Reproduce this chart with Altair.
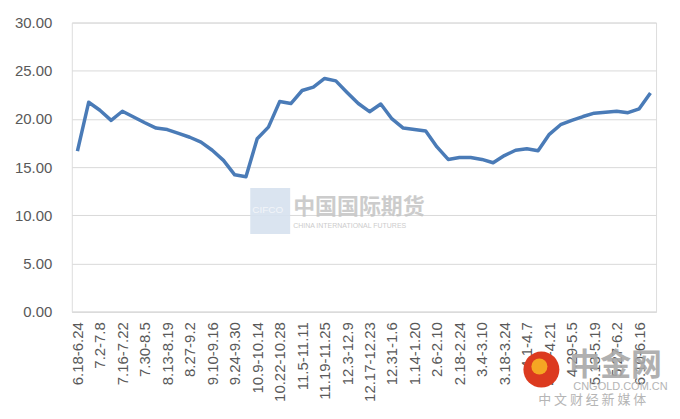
import altair as alt
import pandas as pd

weeks = [
    "6.18-6.24", "6.25-7.1", "7.2-7.8", "7.9-7.15", "7.16-7.22", "7.23-7.29",
    "7.30-8.5", "8.6-8.12", "8.13-8.19", "8.20-8.26", "8.27-9.2", "9.3-9.9",
    "9.10-9.16", "9.17-9.23", "9.24-9.30", "10.1-10.7", "10.9-10.14", "10.15-10.21",
    "10.22-10.28", "10.29-11.4", "11.5-11.11", "11.12-11.18", "11.19-11.25", "11.26-12.2",
    "12.3-12.9", "12.10-12.16", "12.17-12.23", "12.24-12.30", "12.31-1.6", "1.7-1.13",
    "1.14-1.20", "1.21-2.3", "2.6-2.10", "2.11-2.17", "2.18-2.24", "2.25-3.3",
    "3.4-3.10", "3.11-3.17", "3.18-3.24", "3.25-3.31", "4.1-4.7", "4.8-4.14",
    "4.15-4.21", "4.22-4.28", "4.29-5.5", "5.6-5.12", "5.13-5.19", "5.20-5.26",
    "5.27-6.2", "6.3-6.9", "6.10-6.16", "6.17-6.23",
]

values = [
    16.65, 21.73, 20.9, 19.85, 20.8, 20.2,
    19.6, 19.05, 18.9, 18.5, 18.1, 17.6,
    16.75, 15.7, 14.2, 14.0, 17.95, 19.15,
    21.8, 21.6, 22.95, 23.3, 24.2, 23.95,
    22.75, 21.6, 20.75, 21.55, 20.0, 19.05,
    18.9, 18.75, 17.1, 15.8, 16.0, 16.0,
    15.8, 15.45, 16.2, 16.75, 16.9, 16.7,
    18.4, 19.4, 19.85, 20.25, 20.6, 20.7,
    20.8, 20.65, 21.05, 22.7,
]

y_ticks = [0, 5, 10, 15, 20, 25, 30]
shown_weeks = weeks[::2]

df = pd.DataFrame({"week": weeks, "value": values})

TEXT = "#595959"
GRID = "#d9d9d9"
FONT = "Liberation Sans"

line = alt.Chart(df).mark_line(color="#4a7bb7", strokeWidth=3.5, strokeJoin="round").encode(
    x=alt.X(
        "week:N",
        sort=weeks,
        title=None,
        axis=alt.Axis(
            values=shown_weeks,
            labelAngle=-90,
            labelOverlap=False,
            ticks=False,
            labelPadding=10,
            labelColor=TEXT,
            labelFont=FONT,
            labelFontSize=15,
            domainColor=GRID,
            domainWidth=1,
            grid=False,
        ),
    ),
    y=alt.Y(
        "value:Q",
        title=None,
        scale=alt.Scale(domain=[0, 30], nice=False, zero=True),
        axis=alt.Axis(
            values=y_ticks,
            format=".2f",
            ticks=False,
            domain=False,
            labelPadding=20,
            labelColor=TEXT,
            labelFont=FONT,
            labelFontSize=15,
            gridColor=GRID,
            gridWidth=1,
        ),
    ),
)

one = pd.DataFrame({"k": [0]})
CJK = "Noto Sans CJK SC"

# watermark: CIFCO
wm_rect = alt.Chart(one).mark_rect(color="#d6e1ee", opacity=0.9).encode(
    x=alt.value(179), x2=alt.value(219), y=alt.value(166), y2=alt.value(212)
)
wm_cifco = alt.Chart(one).mark_text(text="CIFCO", font=FONT, fontSize=10, color="#f2f5f9", align="left", baseline="middle").encode(
    x=alt.value(181), y=alt.value(188)
)
wm_cn = alt.Chart(one).mark_text(text="中国国际期货", font=CJK, fontSize=22, fontWeight="bold", color="#c4c4c4", opacity=0.85, align="left", baseline="middle").encode(
    x=alt.value(222), y=alt.value(185)
)
wm_en = alt.Chart(one).mark_text(text="CHINA  INTERNATIONAL  FUTURES", font=FONT, fontSize=7, color="#cccccc", align="left", baseline="middle").encode(
    x=alt.value(222), y=alt.value(204)
)

# watermark: cngold
logo_circle = alt.Chart(one).mark_point(shape="circle", filled=True, color="#dc3a1f", size=1300, opacity=1).encode(
    x=alt.value(471), y=alt.value(348)
)
logo_inner = alt.Chart(one).mark_point(shape="circle", filled=True, color="#f5a623", size=260, opacity=1).encode(
    x=alt.value(469), y=alt.value(345)
)
logo_text = alt.Chart(one).mark_text(text="中金网", font=CJK, fontSize=31, fontWeight="bold", color="#a8a8a8", opacity=0.9, align="left", baseline="middle").encode(
    x=alt.value(499), y=alt.value(344)
)
logo_url = alt.Chart(one).mark_text(text="CNGOLD.COM.CN", font=FONT, fontSize=11, color="#b5b5b5", align="left", baseline="middle").encode(
    x=alt.value(503), y=alt.value(366)
)
logo_sub = alt.Chart(one).mark_text(text="中 文 财 经 新 媒 体", font=CJK, fontSize=13, color="#b5b5b5", align="center", baseline="middle").encode(
    x=alt.value(522), y=alt.value(379)
)

chart = alt.layer(
    line, wm_rect, wm_cifco, wm_cn, wm_en, logo_circle, logo_inner, logo_text, logo_url, logo_sub
).properties(
    width=586,
    height=290,
    autosize=alt.AutoSizeParams(type="none"),
    padding={"left": 64, "top": 14, "right": 16, "bottom": 100},
).configure_view(stroke=None).configure(background="white")

chart.save("out.html", embed_options={"renderer": "svg", "actions": False})
